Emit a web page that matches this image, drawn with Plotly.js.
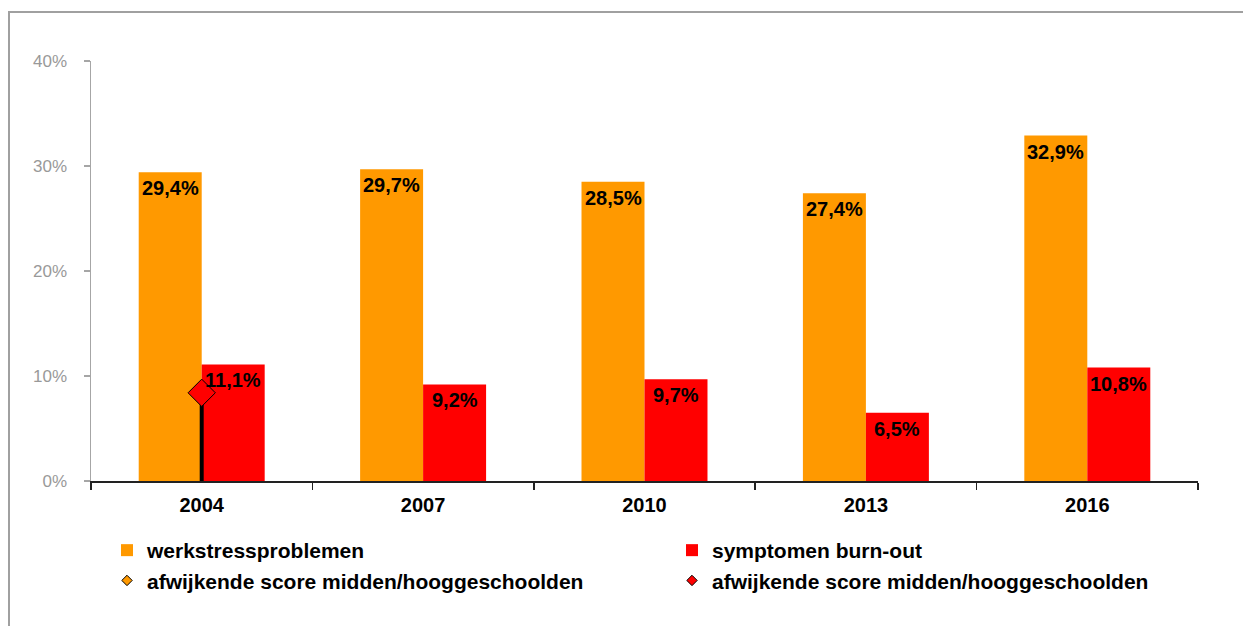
<!DOCTYPE html>
<html>
<head>
<meta charset="utf-8">
<script src="https://cdn.plot.ly/plotly-3.0.1.min.js"></script>
<style>
  html, body { margin: 0; padding: 0; background: #ffffff; }
  #chart { width: 1243px; height: 626px; }
</style>
</head>
<body>
<div id="chart"></div>
<script>
// ---- data ----
const years = ['2004', '2007', '2010', '2013', '2016'];
const werkstress = [29.4, 29.7, 28.5, 27.4, 32.9];
const burnout = [11.1, 9.2, 9.7, 6.5, 10.8];
const afwijkendWerkstress = [null, null, null, null, null];
const afwijkendBurnout = [8.4, null, null, null, null];
const seriesNames = ['werkstressproblemen', 'symptomen burn-out',
  'afwijkende score midden/hooggeschoolden', 'afwijkende score midden/hooggeschoolden'];
const yTicks = [0, 10, 20, 30, 40];
const yTickText = yTicks.map(v => v + '%');

const fmt = v => v.toFixed(1).replace('.', ',') + '%';
const ORANGE = '#FF9900', RED = '#FF0000';
const FONT = '"Liberation Sans", Arial, sans-serif';

const L = 91, R = 45, T = 61, B = 145;
const W = 1243 - L - R, H = 626 - T - B;
const px = x => (x - L) / W;
const py = y => (626 - B - y) / H;
const BARGAP = 0.431;
const barHalf = (W / years.length) * (1 - BARGAP) / 4; // offset of each bar centre from category centre

const traces = [
  {
    type: 'bar', name: seriesNames[0], x: years, y: werkstress,
    marker: { color: ORANGE }, hoverinfo: 'x+y', legend: 'legend'
  },
  {
    type: 'bar', name: seriesNames[1], x: years, y: burnout,
    marker: { color: RED }, hoverinfo: 'x+y', legend: 'legend2'
  },
  {
    type: 'scatter', mode: 'markers', name: seriesNames[3], x: years, y: afwijkendBurnout,
    marker: { symbol: 'diamond', size: 21, color: RED, line: { color: '#000000', width: 1 } },
    error_y: { type: 'data', symmetric: false, array: afwijkendBurnout.map(v => v === null ? null : 0),
      arrayminus: afwijkendBurnout, color: '#000000', thickness: 4, width: 0 },
    showlegend: false, cliponaxis: false
  },
  {
    type: 'scatter', mode: 'markers', name: seriesNames[2], x: years, y: afwijkendWerkstress,
    marker: { symbol: 'diamond', size: 8, color: ORANGE, line: { color: '#000000', width: 1 } },
    legend: 'legend'
  },
  {
    type: 'scatter', mode: 'markers', name: seriesNames[3], x: years, y: afwijkendWerkstress,
    marker: { symbol: 'diamond', size: 8, color: RED, line: { color: '#000000', width: 1 } },
    legend: 'legend2'
  }
];

const labelFont = { family: FONT, size: 20, color: '#000000', weight: 'bold' };
const annotations = [];
years.forEach((yr, i) => {
  annotations.push({ x: i, y: werkstress[i], xref: 'x', yref: 'y', text: fmt(werkstress[i]),
    showarrow: false, xanchor: 'center', yanchor: 'top', xshift: -barHalf, yshift: -3, font: labelFont });
  annotations.push({ x: i, y: burnout[i], xref: 'x', yref: 'y', text: fmt(burnout[i]),
    showarrow: false, xanchor: 'center', yanchor: 'top', xshift: barHalf, yshift: -3, font: labelFont });
});

const legendFont = { family: FONT, size: 21, color: '#000000', weight: 'bold' };

const layout = {
  width: 1243, height: 626,
  margin: { l: L, r: R, t: T, b: B, pad: 0 },
  paper_bgcolor: '#ffffff', plot_bgcolor: '#ffffff',
  barmode: 'group', bargap: BARGAP, bargroupgap: 0,
  showlegend: true,
  font: { family: FONT },
  xaxis: {
    type: 'category', categoryorder: 'array', categoryarray: years,
    range: [-0.5, 4.5],
    showline: true, linecolor: '#222222', linewidth: 1.5,
    ticks: 'outside', tickson: 'boundaries', ticklen: 7, tickcolor: '#222222', tickwidth: 1.5,
    showgrid: false, zeroline: false,
    tickfont: { family: FONT, size: 20, color: '#000000', weight: 700 },
    ticklabelstandoff: 5
  },
  yaxis: {
    range: [0, 40], tickvals: yTicks, ticktext: yTickText,
    showline: true, linecolor: '#a6a6a6', linewidth: 1.5,
    ticks: 'outside', ticklen: 6, tickcolor: '#a6a6a6', tickwidth: 1.5,
    showgrid: false, zeroline: false,
    tickfont: { family: FONT, size: 17, color: '#999999' },
    ticklabelstandoff: 13
  },
  legend: {
    orientation: 'v', x: px(107), xanchor: 'left', y: py(530), yanchor: 'top',
    font: legendFont, bgcolor: 'rgba(0,0,0,0)', tracegroupgap: 0, traceorder: 'normal',
    itemclick: false
  },
  legend2: {
    orientation: 'v', x: px(672), xanchor: 'left', y: py(530), yanchor: 'top',
    font: legendFont, bgcolor: 'rgba(0,0,0,0)', tracegroupgap: 0, traceorder: 'normal',
    itemclick: false
  },
  annotations: annotations,
  shapes: [
    { type: 'rect', xref: 'paper', yref: 'paper',
      x0: px(9), x1: px(1262), y0: py(660), y1: py(12),
      line: { color: '#a0a0a0', width: 2 }, fillcolor: 'rgba(0,0,0,0)', layer: 'below' }
  ]
};

Plotly.newPlot('chart', traces, layout, { displayModeBar: false, staticPlot: true });
</script>
</body>
</html>
